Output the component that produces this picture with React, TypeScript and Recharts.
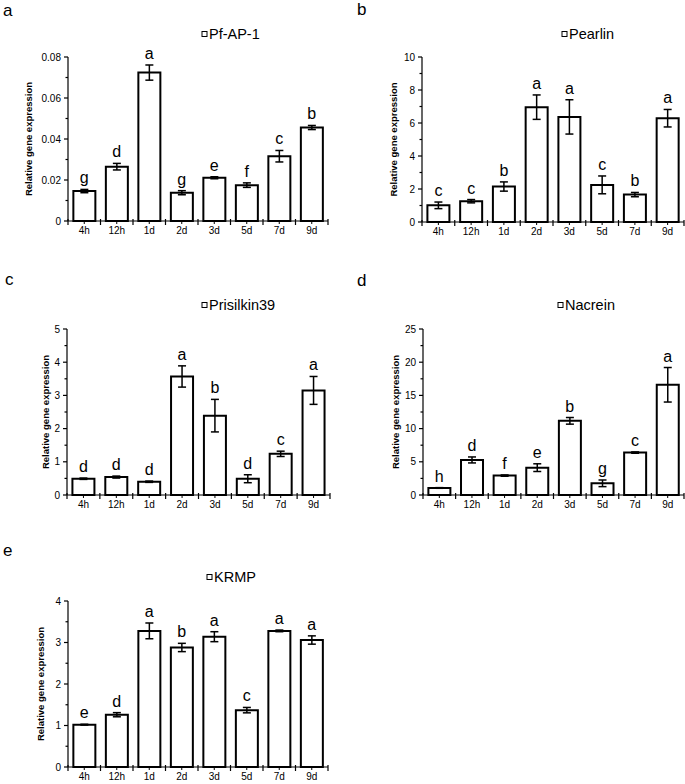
import React from "react";
import { ComposedChart, Bar, Line, XAxis, YAxis, ErrorBar, LabelList } from "recharts";

const FONT = "'Liberation Sans', Arial, Helvetica, sans-serif";

const categories = ["4h", "12h", "1d", "2d", "3d", "5d", "7d", "9d"];

// a: Pf-AP-1
const pfap1Values = [0.0146, 0.0265, 0.0724, 0.0138, 0.0211, 0.0175, 0.0316, 0.0456];
const pfap1Errors = [0.0008, 0.0016, 0.0037, 0.001, 0.0005, 0.0011, 0.0028, 0.001];
const pfap1Letters = ["g", "d", "a", "g", "e", "f", "c", "b"];
const pfap1Ticks = [0, 0.02, 0.04, 0.06, 0.08];

// b: Pearlin
const pearlinValues = [1.01, 1.26, 2.15, 6.96, 6.37, 2.25, 1.66, 6.29];
const pearlinErrors = [0.2, 0.1, 0.28, 0.74, 1.04, 0.54, 0.13, 0.53];
const pearlinLetters = ["c", "c", "b", "a", "a", "c", "b", "a"];
const pearlinTicks = [0, 2, 4, 6, 8, 10];

// c: Prisilkin39
const prisilkinValues = [0.49, 0.54, 0.4, 3.57, 2.39, 0.49, 1.24, 3.15];
const prisilkinErrors = [0.02, 0.03, 0.02, 0.32, 0.49, 0.12, 0.08, 0.42];
const prisilkinLetters = ["d", "d", "d", "a", "b", "d", "c", "a"];
const prisilkinTicks = [0, 1, 2, 3, 4, 5];

// d: Nacrein
const nacreinValues = [1.06, 5.28, 2.92, 4.12, 11.17, 1.76, 6.39, 16.6];
const nacreinErrors = [0.05, 0.45, 0.1, 0.58, 0.5, 0.5, 0.1, 2.6];
const nacreinLetters = ["h", "d", "f", "e", "b", "g", "c", "a"];
const nacreinTicks = [0, 5, 10, 15, 20, 25];

// e: KRMP
const krmpValues = [1.02, 1.26, 3.28, 2.88, 3.14, 1.37, 3.28, 3.06];
const krmpErrors = [0.01, 0.05, 0.19, 0.1, 0.12, 0.065, 0.02, 0.1];
const krmpLetters = ["e", "d", "a", "b", "a", "c", "a", "a"];
const krmpTicks = [0, 1, 2, 3, 4];

function buildRows(values: number[], errors: number[], letters: string[]) {
  return categories.map((cat, i) => ({
    cat,
    value: values[i],
    err: errors[i],
    top: values[i] + errors[i],
    letter: letters[i],
  }));
}

function withMinors(ticks: number[]) {
  const out: number[] = [];
  ticks.forEach((t, i) => {
    out.push(t);
    if (i < ticks.length - 1) out.push((t + ticks[i + 1]) / 2);
  });
  return out;
}

const panels = [
  {
    key: "a", title: "Pf-AP-1", rows: buildRows(pfap1Values, pfap1Errors, pfap1Letters), ticks: pfap1Ticks,
    left: 0, top: 0, width: 340, height: 260, xh: 20,
    margin: { top: 57, right: 12, bottom: 19, left: 38 },
    letterPos: [3, 16], legendPos: [202, 34], yLabelX: 28,
  },
  {
    key: "b", title: "Pearlin", rows: buildRows(pearlinValues, pearlinErrors, pearlinLetters), ticks: pearlinTicks,
    left: 340, top: 0, width: 345, height: 260, xh: 20,
    margin: { top: 57, right: 1, bottom: 18, left: 52 },
    letterPos: [357, 15], legendPos: [562, 34], yLabelX: 393,
  },
  {
    key: "c", title: "Prisilkin39", rows: buildRows(prisilkinValues, prisilkinErrors, prisilkinLetters), ticks: prisilkinTicks,
    left: 0, top: 260, width: 340, height: 260, xh: 20,
    margin: { top: 69, right: 10, bottom: 5, left: 37 },
    letterPos: [5, 285], legendPos: [202, 305], yLabelX: 45,
  },
  {
    key: "d", title: "Nacrein", rows: buildRows(nacreinValues, nacreinErrors, nacreinLetters), ticks: nacreinTicks,
    left: 340, top: 260, width: 345, height: 260, xh: 20,
    margin: { top: 69, right: 1, bottom: 5, left: 53 },
    letterPos: [357, 286], legendPos: [558, 305], yLabelX: 395,
  },
  {
    key: "e", title: "KRMP", rows: buildRows(krmpValues, krmpErrors, krmpLetters), ticks: krmpTicks,
    left: 0, top: 520, width: 340, height: 264, xh: 17,
    margin: { top: 81, right: 12, bottom: 0, left: 38 },
    letterPos: [3, 556], legendPos: [207, 577], yLabelX: 40,
  },
];

const Y_AXIS_W = 30;

function XTick(props: any) {
  const { x, y, payload, index, band } = props;
  const half = payload && payload.offset ? payload.offset : band / 2;
  return (
    <g>
      <line x1={x} y1={y} x2={x} y2={y + 3} stroke="#000" strokeWidth={1} />
      <line x1={x - half} y1={y - 2} x2={x - half} y2={y + 4} stroke="#000" strokeWidth={1.2} />
      {index === categories.length - 1 && (
        <line x1={x + half} y1={y - 2} x2={x + half} y2={y + 4} stroke="#000" strokeWidth={1.2} />
      )}
      <text x={x} y={y + 13} textAnchor="middle" fontSize={10} fontFamily={FONT} fill="#000">
        {payload.value}
      </text>
    </g>
  );
}

function YTick(props: any) {
  const { x, y, payload, majors } = props;
  const major = majors.includes(payload.value);
  return (
    <g>
      <line x1={x - (major ? 4 : 2.5)} y1={y} x2={x} y2={y} stroke="#000" strokeWidth={1.2} />
      {major && (
        <text x={x - 7} y={y} dy={3.5} textAnchor="end" fontSize={10} fontFamily={FONT} fill="#000">
          {String(payload.value)}
        </text>
      )}
    </g>
  );
}

function Panel({ p }: { p: any }) {
  const yMax = p.ticks[p.ticks.length - 1];
  const plotW = p.width - p.margin.left - p.margin.right - Y_AXIS_W;
  const band = plotW / categories.length;
  return (
    <div style={{ position: "absolute", left: p.left, top: p.top }}>
      <ComposedChart
        width={p.width}
        height={p.height}
        data={p.rows}
        margin={p.margin}
        barCategoryGap="16.5%"
      >
        <XAxis
          dataKey="cat"
          height={p.xh}
          interval={0}
          tickSize={0}
          tickMargin={0}
          tickLine={false}
          axisLine={{ stroke: "#000", strokeWidth: 1.2 }}
          tick={(tp: any) => <XTick {...tp} band={band} />}
        />
        <YAxis
          width={Y_AXIS_W}
          domain={[0, yMax]}
          ticks={withMinors(p.ticks)}
          interval={0}
          tickSize={0}
          tickMargin={0}
          tickLine={false}
          axisLine={{ stroke: "#000", strokeWidth: 1.2 }}
          tick={(tp: any) => <YTick {...tp} majors={p.ticks} />}
        />
        <Bar dataKey="value" fill="#fff" stroke="#000" strokeWidth={2} isAnimationActive={false}>
          <ErrorBar dataKey="err" width={4} stroke="#000" strokeWidth={1.5} direction="y" />
        </Bar>
        <Line
          dataKey="top"
          stroke="none"
          dot={false}
          activeDot={false}
          legendType="none"
          isAnimationActive={false}
        >
          <LabelList dataKey="letter" position="top" offset={6} fontSize={16} fontFamily={FONT} fill="#000" />
        </Line>
      </ComposedChart>
    </div>
  );
}

export default function App() {
  return (
    <div style={{ position: "absolute", left: 0, top: 0, width: 685, height: 784, background: "#fff", overflow: "hidden" }}>
      {panels.map((p) => (
        <Panel key={p.key} p={p} />
      ))}
      <svg width={685} height={784} style={{ position: "absolute", left: 0, top: 0, pointerEvents: "none" }}>
        {panels.map((p) => {
          const plotTop = p.top + p.margin.top;
          const plotH = p.height - p.margin.top - p.margin.bottom - p.xh;
          const cy = plotTop + plotH / 2;
          return (
            <g key={p.key} fontFamily={FONT} fill="#000">
              <text x={p.letterPos[0]} y={p.letterPos[1]} fontSize={17}>
                {p.key}
              </text>
              <rect x={p.legendPos[0]} y={p.legendPos[1] - 2.5} width={5} height={5} fill="#fff" stroke="#000" strokeWidth={1} />
              <text x={p.legendPos[0] + 7} y={p.legendPos[1] + 4.5} fontSize={14.5}>
                {p.title}
              </text>
              <text
                x={p.yLabelX}
                y={cy}
                fontSize={9.5}
                fontWeight="bold"
                textAnchor="middle"
                dominantBaseline="central"
                transform={`rotate(-90 ${p.yLabelX} ${cy})`}
              >
                Relative gene expression
              </text>
            </g>
          );
        })}
      </svg>
    </div>
  );
}
